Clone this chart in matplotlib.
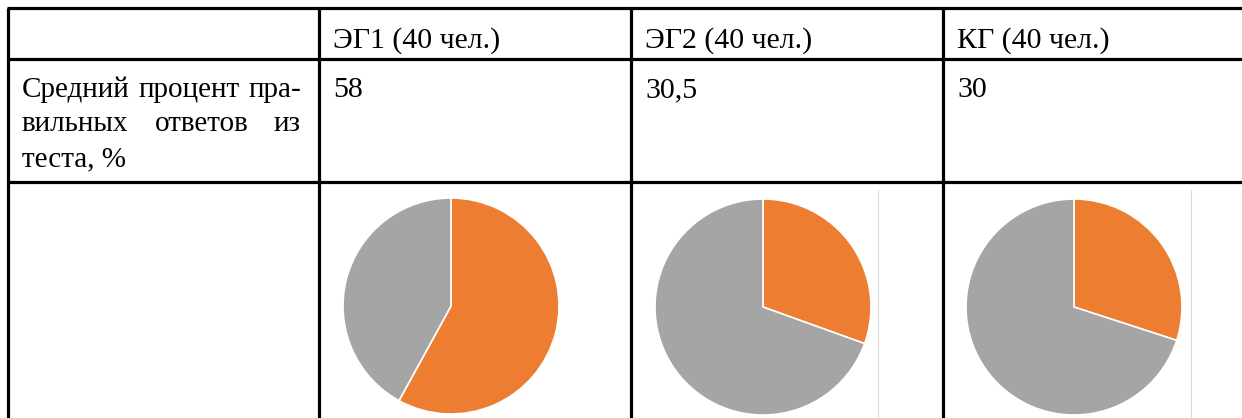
import matplotlib
matplotlib.use("Agg")
import matplotlib.pyplot as plt

# ---- data ----
groups = ["ЭГ1 (40 чел.)", "ЭГ2 (40 чел.)", "КГ (40 чел.)"]
values = [58, 30.5, 30]
value_labels = ["58", "30,5", "30"]
row_label_lines = [["Средний", "процент", "пра-"],
                   ["вильных", "ответов", "из"],
                   ["теста,", "%"]]

W, H = 1242, 418
fig = plt.figure(figsize=(W / 100, H / 100), dpi=100)
ax = fig.add_axes([0, 0, 1, 1])
ax.set_xlim(0, W)
ax.set_ylim(0, H)
ax.axis("off")

def Y(py):
    return H - py

ORANGE = "#ED7D31"
GRAY = "#A5A5A5"
FONT = "Liberation Serif"
FS = 21.5
FS_LABEL = 21

# ---- grid lines ----
col_x = [7.5, 319, 631, 943]
row_y = [8, 59, 182]
lw = 2.3
for x in col_x:
    ax.plot([x, x], [Y(row_y[0]), Y(H + 5)], color="black", lw=lw, solid_capstyle="butt")
for y in row_y:
    ax.plot([col_x[0] - 1, W + 5], [Y(y), Y(y)], color="black", lw=lw, solid_capstyle="butt")

# faint picture borders next to the 2nd and 3rd pies
for x in [878, 1191]:
    ax.plot([x, x], [Y(190), Y(H)], color="#D9D9D9", lw=0.8)

# ---- header texts ----
text_dx = 14
for i, g in enumerate(groups):
    ax.text(col_x[i + 1] + text_dx, Y(48), g, fontsize=FS, family=FONT,
            ha="left", va="baseline")
    ax.text(col_x[i + 1] + text_dx, Y(97), value_labels[i], fontsize=FS, family=FONT,
            ha="left", va="baseline")

# ---- row label (justified) ----
fig.canvas.draw()
renderer = fig.canvas.get_renderer()
left, right = 22, 301
line_y = [97, 131, 166]
for li, words in enumerate(row_label_lines):
    if li == len(row_label_lines) - 1:
        ax.text(left, Y(line_y[li]), " ".join(words), fontsize=FS_LABEL, family=FONT,
                ha="left", va="baseline")
        continue
    tmp = [ax.text(0, 0, w, fontsize=FS_LABEL, family=FONT) for w in words]
    widths = []
    for t in tmp:
        bb = t.get_window_extent(renderer)
        widths.append(bb.width)
        t.remove()
    gap = (right - left - sum(widths)) / (len(words) - 1)
    x = left
    for w, wd in zip(words, widths):
        ax.text(x, Y(line_y[li]), w, fontsize=FS_LABEL, family=FONT, ha="left", va="baseline")
        x += wd + gap

# ---- pies ----
centers = [(451, 306), (763, 307), (1074, 307)]
radius = 108
for (cx, cy), v in zip(centers, values):
    ax.pie([v, 100 - v], colors=[ORANGE, GRAY], startangle=90, counterclock=False,
           center=(cx, Y(cy)), radius=radius, frame=True,
           wedgeprops=dict(edgecolor="white", linewidth=1.2))

ax.set_xlim(0, W)
ax.set_ylim(0, H)
ax.set_aspect("auto")
ax.axis("off")

fig.savefig("out.png", dpi=100)
